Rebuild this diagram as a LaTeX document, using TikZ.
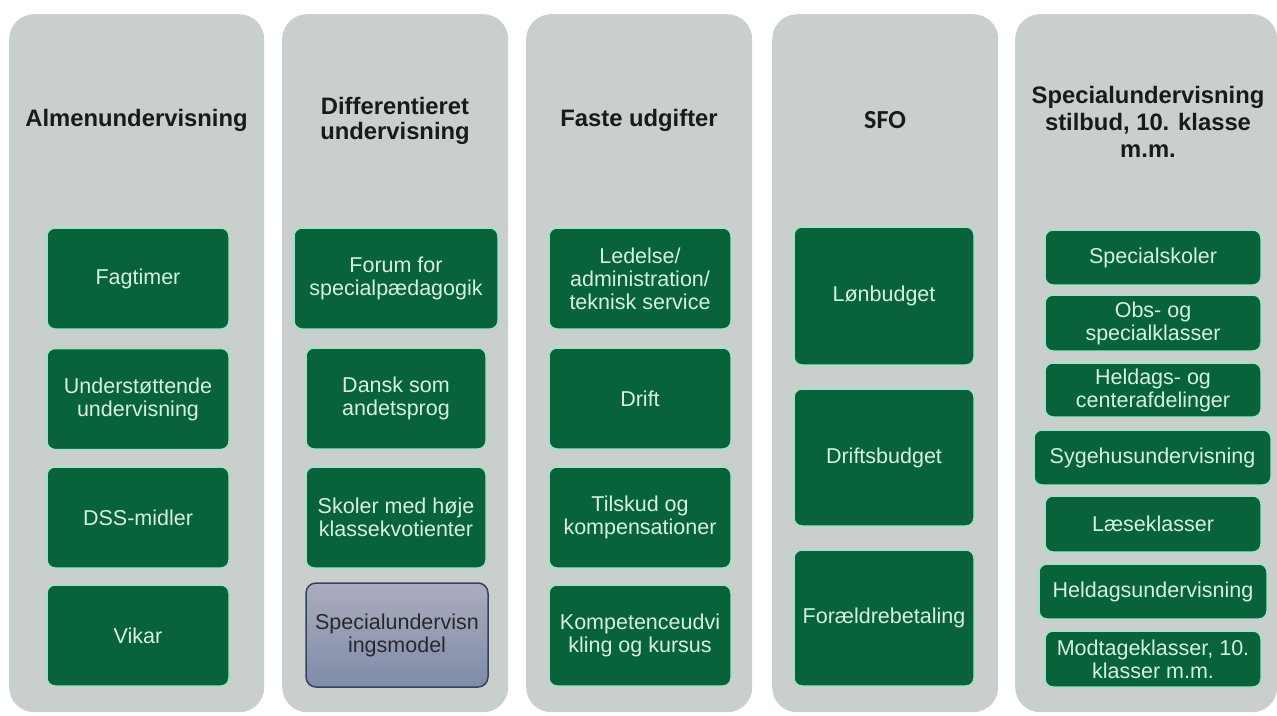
\documentclass[tikz,border=0pt]{standalone}
\usepackage{fontspec}
\setmainfont{Liberation Sans}
\newfontfamily\sfofont{Carlito}
\definecolor{colgray}{RGB}{200,207,204}
\definecolor{boxgreen}{RGB}{8,98,58}
\definecolor{boxedge}{RGB}{160,226,196}
\definecolor{boxtext}{RGB}{214,240,226}
\definecolor{headtext}{RGB}{26,26,26}
\definecolor{spectop}{RGB}{172,172,190}
\definecolor{specbot}{RGB}{126,140,168}
\definecolor{specedge}{RGB}{50,68,92}
\definecolor{spectext}{RGB}{40,40,44}
\begin{document}
\begin{tikzpicture}[x=1pt,y=-1pt,
  col/.style={fill=colgray, rounded corners=25pt, draw=none, inner sep=0pt, anchor=north west},
  gbox/.style={draw=boxedge, line width=1.5pt, fill=boxgreen, rounded corners=8pt, text=boxtext,
    align=center, font=\fontsize{21.5}{23}\selectfont, inner sep=0pt},
  sbox/.style={draw=specedge, line width=1.5pt, top color=spectop, bottom color=specbot, rounded corners=10pt,
    text=spectext, align=center, font=\fontsize{21.5}{23}\selectfont, inner sep=0pt},
  head/.style={text=headtext, align=center, font=\fontsize{23.8}{27}\selectfont\bfseries}]
\useasboundingbox[fill=white] (0,0) rectangle (1277,715);
% columns
\node[col, minimum width=255pt, minimum height=698pt] (c1) at (9,14) {};
\node[col, minimum width=226pt, minimum height=698pt] (c2) at (282,14) {};
\node[col, minimum width=226pt, minimum height=698pt] (c3) at (526,14) {};
\node[col, minimum width=226pt, minimum height=698pt] (c4) at (772,14) {};
\node[col, minimum width=262pt, minimum height=698pt] (c5) at (1015,14) {};
% headers
\node[head] (h1) at (136.5,120) {Almenundervisning};
\node[head, font=\fontsize{23.8}{25.5}\selectfont\bfseries] (h2) at (395,121) {Differentieret\\undervisning};
\node[head] (h3) at (639,120) {Faste udgifter};
\node[head, font=\fontsize{26}{28}\selectfont\sfofont\bfseries] (h4) at (885,120) {SFO};
\node[head] (h5) at (1148,122) {Specialundervisning\\stilbud, 10. klasse\\m.m.};
% column 1
\node[gbox, minimum width=182pt, minimum height=101pt] (a1) at (138,278.5) {Fagtimer};
\node[gbox, minimum width=182pt, minimum height=101pt] (a2) at (138,399) {Understøttende\\undervisning};
\node[gbox, minimum width=182pt, minimum height=101pt] (a3) at (138,517.5) {DSS-midler};
\node[gbox, minimum width=182pt, minimum height=101pt] (a4) at (138,635.5) {Vikar};
% column 2
\node[gbox, minimum width=204pt, minimum height=101pt] (b1) at (396,278.5) {Forum for\\specialpædagogik};
\node[gbox, minimum width=180pt, minimum height=101pt] (b2) at (396,398.5) {Dansk som\\andetsprog};
\node[gbox, minimum width=180pt, minimum height=101pt] (b3) at (396,517.5) {Skoler med høje\\klassekvotienter};
\node[sbox, minimum width=182pt, minimum height=104pt] (b4) at (397,635) {Specialundervisn\\ingsmodel};
% column 3
\node[gbox, minimum width=182pt, minimum height=101pt] (d1) at (640,278.5) {Ledelse/\\administration/\\teknisk service};
\node[gbox, minimum width=182pt, minimum height=101pt] (d2) at (640,398.5) {Drift};
\node[gbox, minimum width=182pt, minimum height=101pt] (d3) at (640,517.5) {Tilskud og\\kompensationer};
\node[gbox, minimum width=182pt, minimum height=101pt] (d4) at (640,635.5) {Kompetenceudvi\\kling og kursus};
% column 4
\node[gbox, minimum width=180pt, minimum height=138pt] (e1) at (884,296) {Lønbudget};
\node[gbox, minimum width=180pt, minimum height=137pt] (e2) at (884,457.5) {Driftsbudget};
\node[gbox, minimum width=180pt, minimum height=136pt] (e3) at (884,618) {Forældrebetaling};
% column 5
\node[gbox, minimum width=216pt, minimum height=55pt] (f1) at (1153,257.5) {Specialskoler};
\node[gbox, minimum width=216pt, minimum height=56pt] (f2) at (1153,323) {Obs- og\\specialklasser};
\node[gbox, minimum width=216pt, minimum height=54pt] (f3) at (1153,390) {Heldags- og\\centerafdelinger};
\node[gbox, minimum width=237pt, minimum height=55pt] (f4) at (1152.5,457.5) {Sygehusundervisning};
\node[gbox, minimum width=216pt, minimum height=56pt] (f5) at (1153,524) {Læseklasser};
\node[gbox, minimum width=228pt, minimum height=55pt] (f6) at (1153,591.5) {Heldagsundervisning};
\node[gbox, minimum width=216pt, minimum height=56pt] (f7) at (1153,659) {Modtageklasser, 10.\\klasser m.m.};
\end{tikzpicture}
\end{document}
